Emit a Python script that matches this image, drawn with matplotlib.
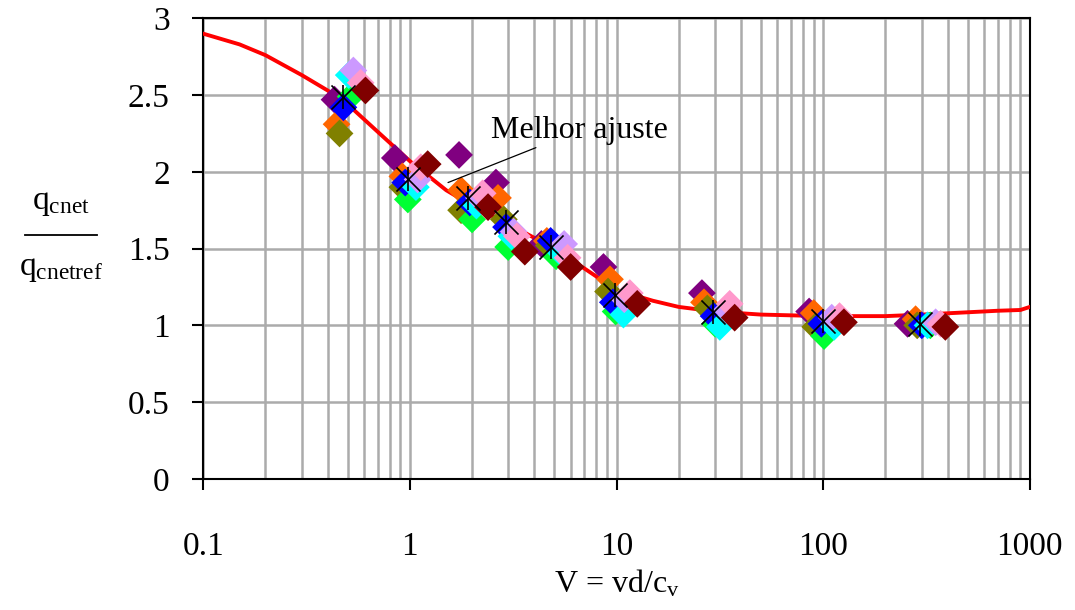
import matplotlib
matplotlib.use("Agg")
import matplotlib.pyplot as plt
from matplotlib.lines import Line2D
from matplotlib.ticker import LogLocator, FixedLocator, NullFormatter

plt.rcParams['font.family'] = ['Liberation Serif', 'DejaVu Serif']
plt.rcParams['mathtext.fontset'] = 'custom'
plt.rcParams['mathtext.rm'] = 'Liberation Serif'
plt.rcParams['mathtext.it'] = 'Liberation Serif:italic'

# best fit curve
fit_v = [0.1, 0.15, 0.2, 0.3, 0.4, 0.5, 0.7, 1, 1.5, 2, 3, 5, 7, 10, 15, 20, 30, 50, 100, 200, 300, 500,
         700, 900, 1000]
fit_q = [2.9, 2.83, 2.76, 2.63, 2.53, 2.44, 2.26, 2.07, 1.88, 1.78, 1.66, 1.5, 1.37, 1.23, 1.16, 1.12,
         1.09, 1.07, 1.06, 1.06, 1.07, 1.085, 1.095, 1.1, 1.12]

# measured points, one list per test series
purple_v = [0.432, 0.846, 1.73, 2.61, 4.33, 8.65, 25.9, 85.5, 256]
purple_q = [2.47, 2.09, 2.11, 1.93, 1.53, 1.38, 1.21, 1.09, 1.01]
orange_v = [0.442, 0.92, 1.77, 2.67, 4.6, 9.3, 26.5, 90, 280]
orange_q = [2.31, 1.97, 1.88, 1.83, 1.55, 1.30, 1.15, 1.08, 1.04]
olive_v = [0.457, 0.92, 1.77, 2.85, 4.7, 9.1, 27.5, 91.5, 285]
olive_q = [2.25, 1.90, 1.75, 1.69, 1.52, 1.22, 1.11, 0.99, 1.0]
green_v = [0.517, 0.978, 2.0, 2.99, 5.1, 9.9, 30, 101, 330]
green_q = [2.49, 1.82, 1.69, 1.51, 1.45, 1.09, 1.01, 0.93, 1.0]
blue_v = [0.477, 0.95, 1.95, 2.92, 4.8, 9.6, 29.5, 98, 300]
blue_q = [2.42, 1.93, 1.80, 1.64, 1.55, 1.15, 1.06, 1.01, 1.0]
cyan_v = [0.506, 1.07, 2.1, 3.1, 5.4, 10.8, 31.6, 113, 320]
cyan_q = [2.63, 1.90, 1.78, 1.58, 1.47, 1.07, 0.99, 0.99, 1.0]
lavender_v = [0.533, 1.09, 2.16, 3.18, 5.58, 10.9, 34.1, 110, 350]
lavender_q = [2.66, 1.95, 1.83, 1.61, 1.53, 1.17, 1.10, 1.05, 1.02]
pink_v = [0.578, 1.13, 2.25, 3.3, 5.8, 11.6, 35.3, 120, 370]
pink_q = [2.58, 2.03, 1.86, 1.58, 1.44, 1.21, 1.14, 1.06, 1.01]
darkred_v = [0.61, 1.22, 2.39, 3.6, 6.0, 12.6, 37.3, 126, 390]
darkred_q = [2.53, 2.05, 1.77, 1.48, 1.38, 1.14, 1.05, 1.02, 0.99]
mean_v = [0.477, 0.978, 1.91, 2.92, 4.82, 9.8, 29.2, 99.9, 295]
mean_q = [2.49, 1.95, 1.83, 1.67, 1.51, 1.20, 1.09, 1.03, 1.01]

series = [
    (purple_v, purple_q, '#800080'),
    (orange_v, orange_q, '#FF6600'),
    (olive_v, olive_q, '#808000'),
    (green_v, green_q, '#00FF33'),
    (blue_v, blue_q, '#0000FF'),
    (cyan_v, cyan_q, '#00FFFF'),
    (lavender_v, lavender_q, '#CC99FF'),
    (pink_v, pink_q, '#FF99CC'),
    (darkred_v, darkred_q, '#800000'),
]

fig = plt.figure(figsize=(10.75, 6.1), dpi=100)
ax = fig.add_axes([0.189, 0.215, 0.769, 0.755])

ax.plot(fit_v, fit_q, color='red', lw=2.8, zorder=3, solid_joinstyle='round')
for v, q, c in series:
    ax.scatter(v, q, marker='D', s=200, color=c, edgecolors='none', zorder=4)
ax.scatter(mean_v, mean_q, marker='x', s=300, color='black', linewidths=1.2, zorder=5)
ax.scatter(mean_v, mean_q, marker='|', s=300, color='black', linewidths=1.2, zorder=5)

ax.set_xscale('log')
ax.set_xlim(0.1, 1000)
ax.set_ylim(0, 3)
ax.xaxis.set_major_locator(FixedLocator([0.1, 1, 10, 100, 1000]))
ax.set_xticklabels(['0.1', '1', '10', '100', '1000'])
ax.xaxis.set_minor_locator(LogLocator(base=10, subs=range(2, 10)))
ax.xaxis.set_minor_formatter(NullFormatter())
ax.set_yticks([0, 0.5, 1, 1.5, 2, 2.5, 3])
ax.set_yticklabels(['0', '0.5', '1', '1.5', '2', '2.5', '3'])
ax.grid(True, which='both', color='#ababab', lw=1.8, zorder=0)
ax.set_axisbelow(True)
ax.tick_params(which='major', direction='out', length=8, width=1.5, labelsize=24)
ax.tick_params(axis='x', pad=30)
ax.tick_params(axis='y', pad=16)
ax.tick_params(which='minor', length=0)
for s in ax.spines.values():
    s.set_linewidth(1.5)

ax.annotate('Melhor ajuste', xy=(1.53, 1.93), xytext=(2.47, 2.27), fontsize=23,
            arrowprops=dict(arrowstyle='-', color='black', lw=0.9, shrinkA=0, shrinkB=0),
            va='center', ha='left', zorder=6)

ax.set_xlabel(r'V = vd/c$_\mathregular{v}$', fontsize=23, labelpad=4)

# y label as a fraction
fig.text(0.057, 0.668, r'q$_\mathregular{cnet}$', fontsize=24, ha='center', va='center')
fig.add_artist(Line2D([0.023, 0.09], [0.615, 0.615], color='black', lw=1.3))
fig.text(0.057, 0.56, r'q$_\mathregular{cnetref}$', fontsize=24, ha='center', va='center')

fig.savefig('out.png', dpi=100)
